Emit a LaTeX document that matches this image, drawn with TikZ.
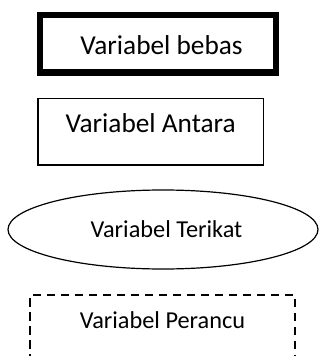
\documentclass[tikz,border=0pt]{standalone}
\usepackage{fontspec}
\setmainfont{Carlito}
\usetikzlibrary{shapes.geometric}
\begin{document}
\begin{tikzpicture}[x=1pt,y=-1pt,
  bigtxt/.style={font=\fontsize{27.3}{31}\selectfont},
  smalltxt/.style={font=\fontsize{24.3}{28}\selectfont},
  varbox/.style={draw, rectangle, inner ysep=0pt, inner xsep=0pt, anchor=north}]
\useasboundingbox (0,0) rectangle (320,356);
\clip (0,0) rectangle (320,356);
\node[varbox, bigtxt, line width=6.5pt, minimum width=236pt, text height=39.3pt, text depth=18.2pt] (bebas) at (158,11.7) {\hspace*{7pt}Variabel bebas};
\node[varbox, bigtxt, line width=1.5pt, minimum width=225.5pt, text height=34.5pt, text depth=32.3pt] (antara) at (150.7,97.5) {Variabel Antara};
\node[draw, ellipse, smalltxt, line width=1.2pt, inner sep=0pt, minimum width=310pt, minimum height=79pt, text height=17pt, text depth=2pt] (terikat) at (163,229.5) {\hspace*{7pt}Variabel Terikat};
\node[varbox, smalltxt, line width=2.4pt, dash pattern=on 8.5pt off 5.5pt, minimum width=265pt, text height=33pt, text depth=50pt] (perancu) at (162.5,294) {Variabel Perancu};
\end{tikzpicture}
\end{document}
